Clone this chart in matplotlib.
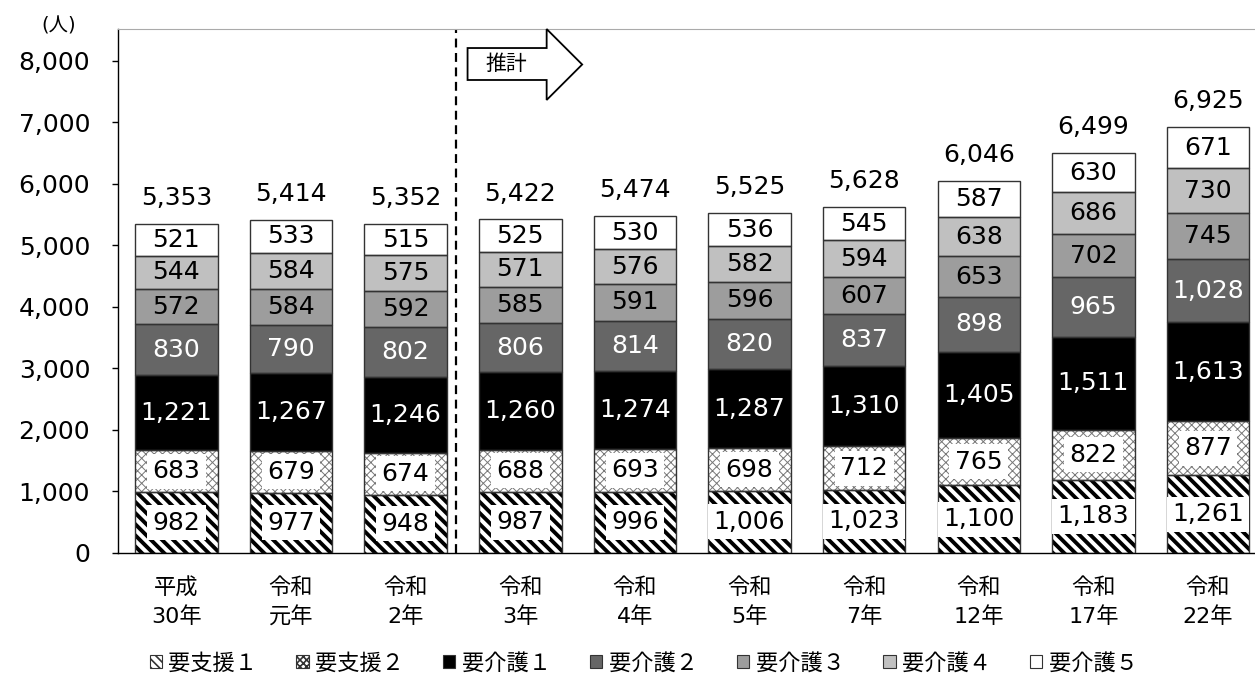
import matplotlib
matplotlib.use("Agg")
import matplotlib.pyplot as plt
from matplotlib.patches import Patch, Polygon
import numpy as np

plt.rcParams['font.family'] = ['DejaVu Sans', 'Noto Sans CJK JP']

categories = ["平成\n30年", "令和\n元年", "令和\n2年", "令和\n3年", "令和\n4年",
              "令和\n5年", "令和\n7年", "令和\n12年", "令和\n17年", "令和\n22年"]
series_names = ["要支援１", "要支援２", "要介護１", "要介護２", "要介護３", "要介護４", "要介護５"]
shien1 = [982, 977, 948, 987, 996, 1006, 1023, 1100, 1183, 1261]
shien2 = [683, 679, 674, 688, 693, 698, 712, 765, 822, 877]
kaigo1 = [1221, 1267, 1246, 1260, 1274, 1287, 1310, 1405, 1511, 1613]
kaigo2 = [830, 790, 802, 806, 814, 820, 837, 898, 965, 1028]
kaigo3 = [572, 584, 592, 585, 591, 596, 607, 653, 702, 745]
kaigo4 = [544, 584, 575, 571, 576, 582, 594, 638, 686, 730]
kaigo5 = [521, 533, 515, 525, 530, 536, 545, 587, 630, 671]
totals = [5353, 5414, 5352, 5422, 5474, 5525, 5628, 6046, 6499, 6925]
yticks = [0, 1000, 2000, 3000, 4000, 5000, 6000, 7000, 8000]

series = [shien1, shien2, kaigo1, kaigo2, kaigo3, kaigo4, kaigo5]
fills = ["white", "white", "black", "#666666", "#9d9d9d", "#c0c0c0", "white"]
hatches = ["\\\\\\", "xxxx", None, None, None, None, None]
hatch_cols = ["black", "#777777", None, None, None, None, None]
hatch_lws = [2.8, 0.7, None, None, None, None, None]
text_cols = ["black", "black", "white", "white", "black", "black", "black"]

NUM_FS = 18

fig = plt.figure(figsize=(12.55, 6.75), dpi=100)
ax = fig.add_axes([0.094, 0.181, 0.906, 0.776])

x = np.arange(len(categories))
width = 0.72
bottom = np.zeros(len(categories))
edge = "#333333"
for i, vals in enumerate(series):
    vals = np.array(vals)
    if hatches[i]:
        plt.rcParams['hatch.linewidth'] = hatch_lws[i]
        ax.bar(x, vals, width, bottom=bottom, color=fills[i], hatch=hatches[i],
               edgecolor=hatch_cols[i], linewidth=0, zorder=2)
    else:
        ax.bar(x, vals, width, bottom=bottom, color=fills[i], linewidth=0, zorder=2)
    ax.bar(x, vals, width, bottom=bottom, fill=False, edgecolor=edge, linewidth=1.0, zorder=3)
    for xi, v, b in zip(x, vals, bottom):
        kw = {}
        if i < 2:
            kw = dict(bbox=dict(boxstyle="square,pad=0.22", fc="white", ec="none"))
        ax.text(xi, b + v / 2, f"{v:,}", ha="center", va="center", fontsize=NUM_FS,
                color=text_cols[i], zorder=4, **kw)
    bottom += vals

for xi, t in zip(x, totals):
    ax.annotate(f"{t:,}", (xi, t), xytext=(0, 10), textcoords="offset points",
                ha="center", va="bottom", fontsize=NUM_FS, zorder=4)

ax.set_xlim(-0.51, 9.41)
ax.set_ylim(0, 8520)
ax.set_yticks(yticks)
ax.set_yticklabels([f"{v:,}" for v in yticks], fontsize=NUM_FS)
ax.set_xticks(x)
ax.set_xticklabels(categories, fontsize=16, linespacing=1.45)
ax.tick_params(axis="x", length=0, pad=18)
ax.tick_params(axis="y", direction="out", length=4, width=1, pad=16)
ax.spines["right"].set_visible(False)
ax.spines["top"].set_color("#aaaaaa")
ax.spines["left"].set_linewidth(1.0)
ax.spines["bottom"].set_linewidth(1.0)

ax.axvline(2.44, color="black", linestyle=(0, (4, 2.5)), linewidth=1.6, zorder=1)

# arrow "推計"
arrow = Polygon([(2.54, 7691), (2.54, 8211), (3.23, 8211), (3.23, 8520),
                 (3.54, 7943), (3.23, 7366), (3.23, 7691)], closed=True,
                fc="white", ec="black", lw=1.3, zorder=5, clip_on=False)
ax.add_patch(arrow)
ax.text(2.88, 7951, "推計", ha="center", va="center", fontsize=15, zorder=6,
        family=['Noto Sans CJK JP'])

fig.text(0.047, 0.962, "(人)", ha="center", va="center", fontsize=14)

plt.rcParams['hatch.linewidth'] = 1.2
handles = []
leg_hatch = ["\\\\\\\\", "xxxxx", None, None, None, None, None]
for i in range(7):
    handles.append(Patch(facecolor=fills[i], edgecolor=edge, hatch=leg_hatch[i], linewidth=0.8))
leg = fig.legend(handles, series_names, loc="center", bbox_to_anchor=(0.513, 0.018),
                 ncol=7, frameon=False, fontsize=16, handlelength=0.55, handleheight=0.55,
                 handletextpad=0.3, columnspacing=1.75,
                 prop={'family': ['Noto Sans CJK JP'], 'size': 16})

fig.savefig("out.png", dpi=100)
